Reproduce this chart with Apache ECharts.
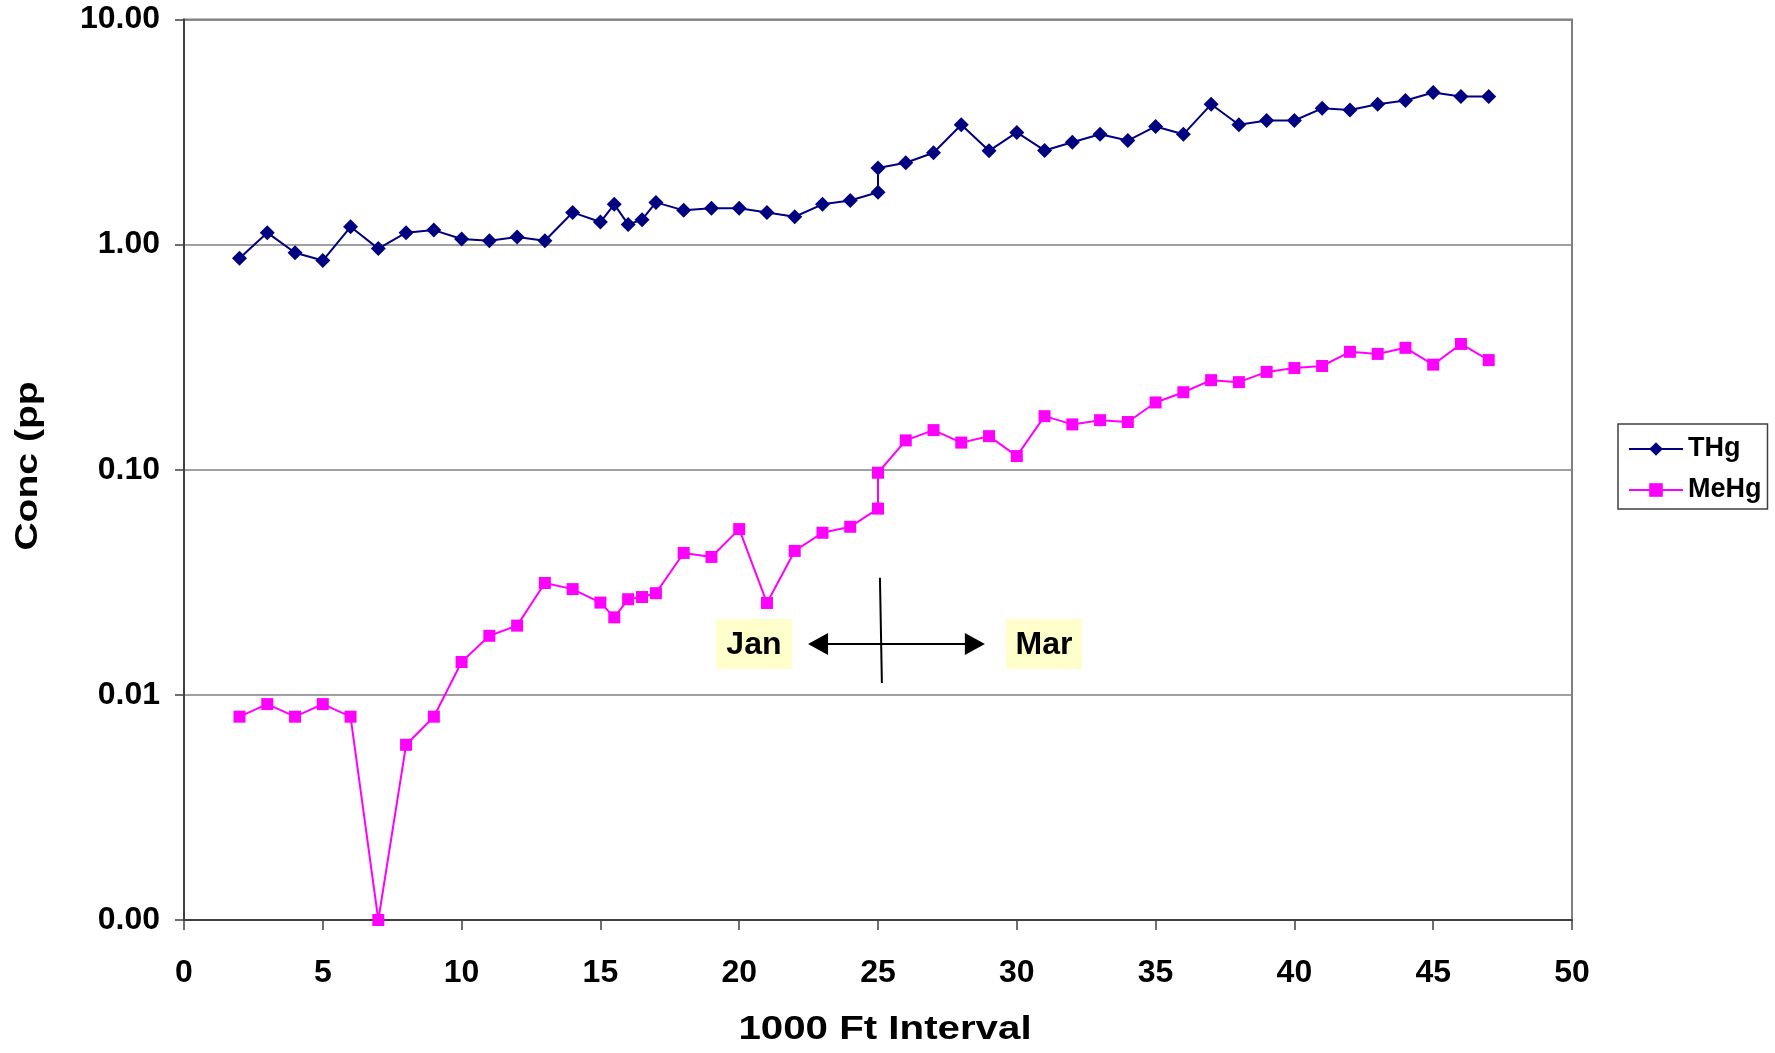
<!DOCTYPE html>
<html><head><meta charset="utf-8">
<script src="https://cdn.jsdelivr.net/npm/echarts@6/dist/echarts.min.js"></script>
<style>html,body{margin:0;padding:0;background:#fff}#c{width:1775px;height:1053px}</style>
</head><body><div id="c"></div>
<script>
// ---- data ----
const intervals = [2,3,4,5,6,7,8,9,10,11,12,13,14,15,15.5,16,16.5,17,18,19,20,21,22,23,24,25,25,26,27,28,29,30,31,32,33,34,35,36,37,38,39,40,41,42,43,44,45,46,47];
const thgValues = [0.87,1.13,0.92,0.85,1.20,0.96,1.13,1.16,1.06,1.04,1.08,1.04,1.39,1.26,1.51,1.23,1.29,1.54,1.42,1.45,1.45,1.39,1.33,1.51,1.57,1.71,2.19,2.31,2.56,3.41,2.61,3.15,2.62,2.85,3.09,2.90,3.35,3.09,4.20,3.41,3.56,3.56,4.03,3.96,4.20,4.37,4.74,4.55,4.55];
const mehgValues = [0.0080,0.0091,0.0080,0.0091,0.0080,0.0010,0.0060,0.0080,0.0140,0.0183,0.0203,0.0314,0.0295,0.0257,0.0221,0.0266,0.0272,0.0283,0.0427,0.0410,0.0545,0.0256,0.0436,0.0525,0.0558,0.0672,0.0970,0.135,0.150,0.132,0.141,0.115,0.173,0.159,0.166,0.163,0.199,0.221,0.250,0.245,0.272,0.283,0.289,0.334,0.327,0.348,0.293,0.362,0.307];
const seriesNames = ['THg', 'MeHg'];
const xAxisTitle = '1000 Ft Interval';
const yAxisTitle = 'Conc (pp';
const xRange = [0, 50, 5];
const yRange = [0.001, 10];
// annotation anchor points in data coordinates
const periodLabels = ['Jan', 'Mar'];
const periodLabelX = [20.53, 30.98];
const arrowY = 0.01684;
const arrowX = [22.48, 28.85];
const dividerTop = [25.07, 0.0331];
const dividerBottom = [25.14, 0.0113];

const FONT = '"Liberation Sans", Arial, sans-serif';
const pairs = (xs, ys) => xs.map((x, i) => [x, ys[i]]);

const chart = echarts.init(document.getElementById('c'), null, {renderer: 'canvas'});
const option = {
  animation: false,
  backgroundColor: '#fff',
  grid: {left: 184, top: 19.5, right: 203, bottom: 133, show: true, borderColor: '#808080', borderWidth: 2},
  xAxis: {
    type: 'value', min: xRange[0], max: xRange[1], interval: xRange[2],
    axisLine: {onZero: false, lineStyle: {color: '#404040', width: 2}},
    axisTick: {length: 10, lineStyle: {color: '#404040', width: 1.5}},
    splitLine: {show: false},
    axisLabel: {fontFamily: FONT, fontWeight: 'bold', fontSize: 32, color: '#000', margin: 37, verticalAlign: 'top'}
  },
  yAxis: {
    type: 'log', logBase: 10, min: yRange[0], max: yRange[1],
    axisLine: {show: true, lineStyle: {color: '#404040', width: 2}},
    axisTick: {show: true, length: 9, lineStyle: {color: '#404040', width: 1.5}},
    splitLine: {show: true, lineStyle: {color: '#808080', width: 1.5}},
    minorTick: {show: false},
    axisLabel: {fontFamily: FONT, fontWeight: 'bold', fontSize: 32, color: '#000', margin: 24,
      formatter: v => Number(v).toFixed(2)}
  },
  legend: {
    orient: 'vertical', left: 1618, top: 424,
    padding: [10, 6, 4, 10], itemGap: 11, itemWidth: 54, itemHeight: 17,
    borderColor: '#404040', borderWidth: 1.5, backgroundColor: '#fff',
    textStyle: {fontFamily: FONT, fontWeight: 'bold', fontSize: 27, lineHeight: 30, color: '#000'},
    data: seriesNames
  },
  series: [
    {name: seriesNames[0], type: 'line', data: pairs(intervals, thgValues),
      symbol: 'diamond', symbolSize: 15,
      itemStyle: {color: '#000080'}, lineStyle: {color: '#000080', width: 2}},
    {name: seriesNames[1], type: 'line', data: pairs(intervals, mehgValues),
      symbol: 'rect', symbolSize: 12,
      itemStyle: {color: '#FF00FF'}, lineStyle: {color: '#FF00FF', width: 2}}
  ]
};
chart.setOption(option);

const px = (x, y) => chart.convertToPixel({gridIndex: 0}, [x, y]);
const gfx = [];
// axis titles (stretched to match the reference's wide type)
gfx.push({type: 'text', x: 885, y: 1030, scaleX: 1.22, z: 10,
  style: {text: xAxisTitle, fontFamily: FONT, fontWeight: 'bold', fontSize: 33, fill: '#000', align: 'center', verticalAlign: 'middle'}});
gfx.push({type: 'text', x: 28, y: 466, rotation: Math.PI / 2, scaleX: 1.26, z: 10,
  style: {text: yAxisTitle, fontFamily: FONT, fontWeight: 'bold', fontSize: 31, fill: '#000', align: 'center', verticalAlign: 'middle'}});
// period labels
periodLabels.forEach((t, i) => {
  const c = px(periodLabelX[i], arrowY);
  gfx.push({type: 'rect', z: 20, shape: {x: c[0] - 38, y: c[1] - 25, width: 76, height: 50}, style: {fill: '#FFFFCC'}});
  gfx.push({type: 'text', z: 21, x: c[0], y: c[1] + 1,
    style: {text: t, fontFamily: FONT, fontWeight: 'bold', fontSize: 32, fill: '#000', align: 'center', verticalAlign: 'middle'}});
});
// double arrow
const a0 = px(arrowX[0], arrowY), a1 = px(arrowX[1], arrowY);
gfx.push({type: 'line', z: 20, shape: {x1: a0[0] + 15, y1: a0[1], x2: a1[0] - 15, y2: a1[1]}, style: {stroke: '#000', lineWidth: 2}});
gfx.push({type: 'polygon', z: 20, shape: {points: [[a0[0], a0[1]], [a0[0] + 20, a0[1] - 11], [a0[0] + 20, a0[1] + 11]]}, style: {fill: '#000'}});
gfx.push({type: 'polygon', z: 20, shape: {points: [[a1[0], a1[1]], [a1[0] - 20, a1[1] - 11], [a1[0] - 20, a1[1] + 11]]}, style: {fill: '#000'}});
// divider
const d0 = px(dividerTop[0], dividerTop[1]), d1 = px(dividerBottom[0], dividerBottom[1]);
gfx.push({type: 'line', z: 20, shape: {x1: d0[0], y1: d0[1], x2: d1[0], y2: d1[1]}, style: {stroke: '#000', lineWidth: 2}});
chart.setOption({graphic: {elements: gfx}});
</script></body></html>
